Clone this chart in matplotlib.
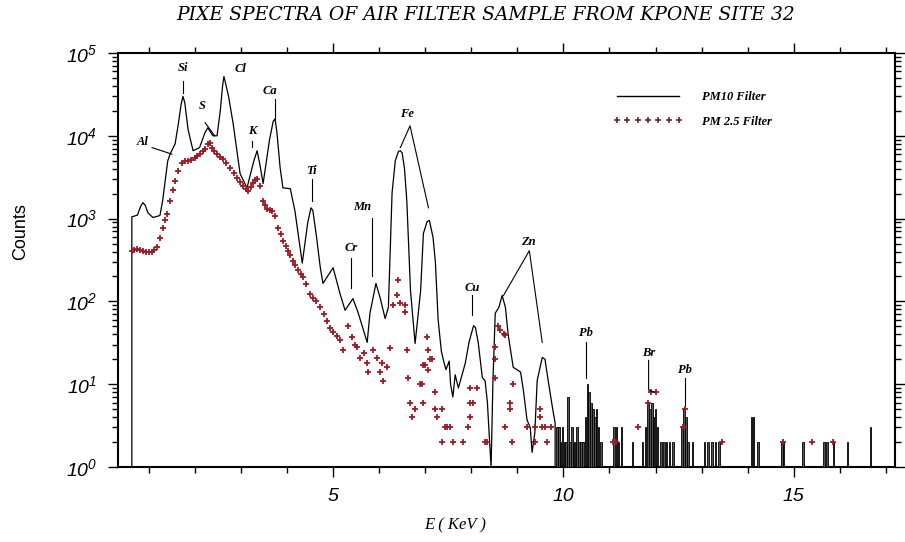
"""
PIXE spectra of air filter sample (Kpone site 32) - PM10 vs PM2.5
"""
import matplotlib
matplotlib.use('Agg')
import matplotlib.pyplot as plt
from matplotlib.lines import Line2D
from matplotlib.ticker import LogLocator, NullFormatter

plt.rcParams['mathtext.fontset'] = 'custom'
plt.rcParams['mathtext.rm'] = 'Liberation Sans:italic'
plt.rcParams['mathtext.it'] = 'Liberation Sans:italic'

# ─── PM10 filter: continuous spectrum (energy in keV, counts) ───────────────
pm10_e = [0.63, 0.63, 0.75, 0.82, 0.87, 0.92, 0.98, 1.09, 1.24, 1.30, 1.41,
          1.46, 1.57, 1.64, 1.70, 1.74, 1.78, 1.85, 1.96, 2.10, 2.22, 2.28,
          2.39, 2.48, 2.55, 2.60, 2.63, 2.67, 2.73, 2.83, 2.98, 3.13, 3.28,
          3.35, 3.41, 3.48, 3.62, 3.70, 3.74, 3.78, 3.85, 3.91, 4.07, 4.17,
          4.33, 4.45, 4.52, 4.56, 4.64, 4.72, 4.78, 5.00, 5.15, 5.26, 5.43,
          5.54, 5.74, 5.80, 5.93, 6.02, 6.13, 6.20, 6.28, 6.35, 6.42, 6.46,
          6.50, 6.55, 6.60, 6.68, 6.78, 6.90, 6.96, 7.04, 7.09, 7.17, 7.22,
          7.28, 7.35, 7.40, 7.45, 7.52, 7.55, 7.60, 7.65, 7.72, 7.80, 7.87,
          7.95, 8.05, 8.09, 8.15, 8.24, 8.30, 8.35, 8.38, 8.43, 8.47, 8.52,
          8.60, 8.67, 8.74, 8.80, 8.91, 9.07, 9.13, 9.21, 9.28, 9.32, 9.38,
          9.43, 9.54, 9.60, 9.67, 9.76, 9.82, 9.84]
pm10_c = [0, 1050, 1100, 1400, 1560, 1450, 1170, 1030, 1090, 1660, 5000,
          6000, 8000, 14000, 24000, 30000, 25000, 12000, 6600, 7200, 11000, 12500,
          10000, 10000, 20000, 40000, 52000, 42000, 30000, 14000, 3500, 2350, 5000,
          6600, 4500, 2650, 9000, 15000, 16000, 11000, 4100, 2350, 2300, 1250,
          290, 900, 1350, 1250, 600, 260, 165, 255, 124, 78, 108,
          74, 32, 72, 165, 111, 62, 85, 2050, 5000, 6500, 6600,
          6200, 4000, 1650, 135, 31, 135, 660, 920, 950, 590, 300,
          60, 25, 19, 15, 19, 10, 7, 13, 9, 13, 18,
          32, 51, 48, 32, 12, 11, 6, 3, 1, 11, 72,
          85, 118, 85, 40, 16, 14, 8.5, 3.7, 3, 1.5, 2.6,
          11, 21, 20, 11, 5.3, 3.4, 0]

# PM10 high-energy tail: single-channel counts
tail_e = [9.86, 9.90, 9.94, 9.98, 10.02, 10.06, 10.10, 10.14, 10.18, 10.22,
          10.26, 10.30, 10.34, 10.38, 10.42, 10.48, 10.52, 10.56, 10.60, 10.64,
          10.68, 10.72, 10.76, 10.82, 11.10, 11.15, 11.20, 11.26, 11.50, 11.72,
          11.78, 11.84, 11.88, 11.92, 11.96, 12.00, 12.04, 12.12, 12.18, 12.24,
          12.30, 12.38, 12.58, 12.62, 12.66, 12.70, 12.80, 13.06, 13.14, 13.22,
          13.30, 13.38, 14.08, 14.13, 14.22, 14.74, 14.78, 15.20, 15.66, 15.72,
          15.86, 16.17, 16.67]
tail_c = [3, 3, 2, 3, 2, 2, 7, 2, 3, 2,
          2, 3, 2, 2, 2, 4, 10, 8, 6, 5,
          4, 5, 3, 2, 3, 3, 2, 3, 2, 2,
          3, 6, 5, 6, 4, 5, 3, 2, 2, 2,
          2, 2, 3, 5, 4, 2, 2, 2, 2, 2,
          2, 2, 4, 4, 2, 2, 2, 2, 2, 2,
          2, 2, 3]

# ─── PM2.5 filter: channel counts shown as '+' markers ──────────────────────
pm25_e = [0.63, 0.68, 0.74, 0.80, 0.87, 0.93, 1.00, 1.07, 1.12, 1.17,
          1.24, 1.30, 1.35, 1.39, 1.46, 1.52, 1.57, 1.63, 1.72, 1.78,
          1.85, 1.92, 2.00, 2.05, 2.11, 2.17, 2.22, 2.28, 2.32, 2.37,
          2.42, 2.48, 2.55, 2.61, 2.68, 2.76, 2.84, 2.91, 2.98, 3.04,
          3.10, 3.15, 3.21, 3.26, 3.30, 3.35, 3.41, 3.48, 3.53, 3.57,
          3.62, 3.67, 3.74, 3.80, 3.86, 3.91, 3.97, 4.02, 4.07, 4.13,
          4.18, 4.24, 4.30, 4.35, 4.42, 4.50, 4.56, 4.62, 4.72, 4.80,
          4.87, 4.93, 5.00, 5.08, 5.15, 5.22, 5.33, 5.41, 5.47, 5.52,
          5.59, 5.66, 5.74, 5.76, 5.87, 5.96, 6.02, 6.07, 6.09, 6.17,
          6.24, 6.30, 6.39, 6.41, 6.46, 6.57, 6.57, 6.61, 6.63, 6.67,
          6.72, 6.78, 6.89, 6.93, 6.96, 6.96, 7.00, 7.04, 7.07, 7.07,
          7.10, 7.15, 7.22, 7.22, 7.26, 7.37, 7.37, 7.43, 7.48, 7.54,
          7.60, 7.83, 7.93, 7.98, 7.98, 7.98, 8.04, 8.13, 8.30, 8.35,
          8.52, 8.52, 8.52, 8.59, 8.63, 8.70, 8.74, 8.74, 8.85, 8.85,
          8.89, 8.91, 9.22, 9.39, 9.39, 9.50, 9.50, 9.54, 9.61, 9.65,
          9.72, 11.07, 11.15, 11.63, 11.83, 11.90, 12.00, 12.60, 12.65, 13.45,
          14.76, 15.40, 15.85]
pm25_c = [410, 420, 435, 420, 410, 400, 395, 390, 420, 450,
          575, 780, 950, 1150, 1650, 2200, 2850, 3800, 4700, 4900,
          5000, 5100, 5400, 5700, 6000, 6500, 7000, 8000, 8200, 7200,
          6600, 6000, 5600, 5300, 4700, 4100, 3600, 3100, 2800, 2500,
          2300, 2150, 2400, 2700, 2900, 3000, 2500, 1650, 1450, 1300,
          1280, 1250, 1080, 780, 650, 540, 470, 410, 360, 310,
          275, 240, 215, 195, 160, 124, 110, 100, 85, 70,
          58, 48, 43, 38, 34, 26, 51, 37, 30, 28,
          21, 24, 18, 14, 26, 21, 14, 18, 11, 16,
          27, 90, 118, 180, 95, 90, 74, 26, 12, 6,
          4, 5, 10, 10, 17, 6, 17, 37, 26, 15,
          20, 20, 8, 5, 4, 5, 2, 3, 3, 3,
          2, 2, 3, 4, 6, 9, 6, 9, 2, 2,
          12, 20, 28, 51, 45, 40, 39, 3, 6, 5,
          2, 10, 3, 2, 3, 5, 4, 3, 3, 2,
          3, 2, 2, 3, 6, 8, 8, 3, 5, 2,
          2, 2, 2]

x_ticks = [5, 10, 15]
y_ticks = [1, 10, 100, 1000, 10000, 100000]
y_ticklabels = ['$10^{0}$', '$10^{1}$', '$10^{2}$', '$10^{3}$', '$10^{4}$', '$10^{5}$']

SERIF = 'Liberation Serif'
SANS = 'Liberation Sans'
RED = '#9B1B24'

fig = plt.figure(figsize=(9.05, 5.42), dpi=100)
ax = fig.add_axes([0.1304, 0.1384, 0.8586, 0.7638])
ax.set_yscale('log')

ax.plot(pm10_e, pm10_c, color='black', lw=0.9, zorder=3)
ax.bar(tail_e, tail_c, width=0.035, color='#555555', edgecolor='black',
       linewidth=0.6, zorder=3)
ax.plot(pm25_e, pm25_c, ls='none', marker='+', ms=4.5, mew=1.3, color=RED,
        zorder=4)

ax.set_xlim(0.33, 17.2)
ax.set_ylim(1, 1e5)

# ticks
ax.set_xticks(x_ticks)
ax.set_xticks(range(1, 18), minor=True)
ax.set_xticklabels([str(t) for t in x_ticks], fontsize=14, family=SANS,
                   fontstyle='italic')
ax.set_yticks(y_ticks)
ax.set_yticklabels(y_ticklabels, fontsize=14)
ax.yaxis.set_minor_locator(LogLocator(base=10, subs=range(2, 10), numticks=20))
ax.yaxis.set_minor_formatter(NullFormatter())
ax.tick_params(which='both', direction='out', top=True, right=True,
               width=1.0, color='black')
ax.tick_params(which='major', length=7, pad=8)
ax.tick_params(which='minor', length=4)
for sp in ax.spines.values():
    sp.set_linewidth(1.5)

# axis labels & title
ax.set_xlabel('E ( KeV )', fontsize=12, family=SERIF, fontstyle='italic')
ax.xaxis.set_label_coords(0.434, -0.122)
ax.set_ylabel('Counts', fontsize=13, family=SANS)
ax.yaxis.set_label_coords(-0.115, 0.568)
fig.text(0.537, 0.973, 'PIXE SPECTRA OF AIR FILTER SAMPLE FROM KPONE SITE 32',
         ha='center', va='center', fontsize=13.5, family='DejaVu Serif',
         fontstyle='italic')

# element labels: (text, x, y) and leader segments
labels = [
    ('Si', 1.74, 66000), ('Cl', 3.00, 64000), ('S', 2.17, 23000),
    ('K', 3.24, 11500), ('Ca', 3.63, 35000), ('Al', 0.87, 8500),
    ('Ti', 4.52, 3800), ('Mn', 5.63, 1390), ('Cr', 5.39, 436),
    ('Fe', 6.61, 18500), ('Zn', 9.24, 515), ('Cu', 8.02, 147),
    ('Pb', 10.48, 41), ('Br', 11.85, 23.7), ('Pb', 12.63, 14.7),
]
leaders = [
    ([1.74, 1.74], [45700, 33000]),
    ([2.22, 2.43], [14400, 10000]),
    ([3.24, 3.24], [8700, 7400]),
    ([3.74, 3.74], [28000, 16000]),
    ([1.07, 1.50], [7200, 6000]),
    ([4.54, 4.54], [3000, 1650]),
    ([5.85, 5.85], [1030, 205]),
    ([5.39, 5.39], [330, 144]),
    ([6.46, 6.67, 7.07], [7200, 13200, 1350]),
    ([8.70, 9.26, 9.54], [118, 410, 32]),
    ([8.02, 8.02], [118, 68]),
    ([10.48, 10.48], [32, 11.8]),
    ([11.85, 11.85, 11.98], [19.4, 8.5, 8.0]),
    ([12.63, 12.63], [11.8, 5.6]),
]
for txt, x, y in labels:
    ax.text(x, y, txt, ha='center', va='center', fontsize=9, family=SERIF,
            fontstyle='italic', fontweight='bold', zorder=5)
for xs, ys in leaders:
    ax.plot(xs, ys, color='black', lw=0.8, zorder=5)

# legend
handles = [Line2D([], [], color='black', lw=1.0),
           Line2D([], [], ls='none', marker='+', ms=4, mew=1.1, color='#5a1f22')]
ax.legend(handles, ['PM10 Filter', 'PM 2.5 Filter'], loc='upper left',
          bbox_to_anchor=(0.637, 0.908), frameon=False, borderpad=0,
          borderaxespad=0, handlelength=5.6, handletextpad=1.5,
          labelspacing=1.0, numpoints=7,
          prop=dict(family=SERIF, style='italic', weight='bold', size=9))

plt.savefig('out.png', dpi=100, facecolor='white')
plt.close()
